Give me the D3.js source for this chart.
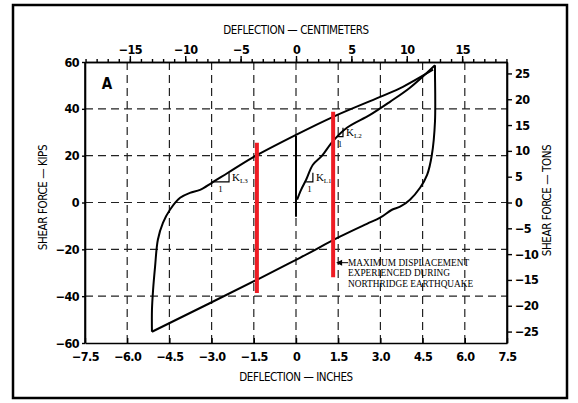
<!DOCTYPE html>
<html><head><meta charset="utf-8">
<script src="https://cdn.jsdelivr.net/npm/d3@7"></script>
<style>
body{margin:0;background:#fff;}
svg{display:block;}
.cond{font-family:"Liberation Sans Narrow","DejaVu Sans Condensed","Arial Narrow",sans-serif;}
.serif{font-family:"Liberation Serif","DejaVu Serif",serif;}
</style></head>
<body>
<svg id="chart" width="578" height="403"></svg>
<script>
// ---------- DATA ----------
const inchTicks = [-7.5,-6.0,-4.5,-3.0,-1.5,0,1.5,3.0,4.5,6.0,7.5];
const inchLabels = ["\u22127.5","\u22126.0","\u22124.5","\u22123.0","\u22121.5","0","1.5","3.0","4.5","6.0","7.5"];
const gridInches = [-6.0,-4.5,-3.0,-1.5,0,1.5,3.0,4.5,6.0];
const kipTicks = [-60,-40,-20,0,20,40,60];
const kipLabels = ["\u221260","\u221240","\u221220","0","20","40","60"];
const gridKips = [-40,-20,0,20,40];
const tonTicks = [-25,-20,-15,-10,-5,0,5,10,15,20,25];
const tonLabels = ["\u221225","\u221220","\u221215","\u221210","\u22125","0","5","10","15","20","25"];
const cmMajor = [-15,-10,-5,0,5,10,15];
const cmLabels = ["\u221215","\u221210","\u22125","0","5","10","15"];
const cmMinor = d3.range(-19,20);

// initial spike at zero deflection
const spikeInches = [0, 0];
const spikeKips = [-6.1, 28.4];
// loading branch (K_L1, K_L2) up to the peak
const loadInches = [0.04,0.18,0.36,0.60,0.92,1.32,1.81,2.63,3.34,4.05,4.94];
const loadKips   = [1.2, 5.4, 9.7,16.1,19.9,26.3,31.9,37.4,43.0,49.0,58.6];
// unloading from peak down to the negative corner
const unloadInches = [4.94,4.94,4.94,4.83,4.66,4.41,4.05,3.70,3.41,2.99,2.52,1.56,0.14,-1.39,-5.12];
const unloadKips   = [58.6,55.8,34.5,20.4,11.8, 6.3, 1.2,-1.8,-3.1,-6.5,-9.1,-14.6,-23.6,-33.0,-55.2];
// reloading from negative corner back up toward the peak (K_L3)
const reloadInches = [-5.12,-5.12,-5.08,-5.01,-4.91,-4.73,-4.48,-4.12,-3.77,-3.41,-2.99,-2.42,-1.56,0,1.32,2.99,3.80,4.87];
const reloadKips   = [-55.2,-45.9,-37.3,-27.5,-15.9,-8.7,-3.1, 2.0, 4.1, 5.4, 8.4,12.7,19.1,28.9,36.6,45.1,49.4,56.7];

// red markers: deflection and vertical extent (kips)
const redInches = [-1.39, 1.32];
const redTopKips = [25.5, 38.8];
const redBottomKips = [-38.6, -31.9];

// stiffness annotations
const kNames = ["L3","L1","L2"];
const kLeftInches = [-2.99, 0.36, 1.46];
const kRightInches = [-2.38, 0.60, 1.67];
const kTopKips = [12.7, 12.7, 31.9];
const kBottomKips = [8.8, 8.8, 28.1];

const noteLines = ["MAXIMUM DISPLACEMENT","EXPERIENCED DURING","NORTHRIDGE EARTHQUAKE"];
const noteInches = 1.85, noteKips = -25.7;

// ---------- DRAW ----------
const svg = d3.select("#chart");
const L = 85, R = 507, T = 62, B = 343;
const x = d3.scaleLinear().domain([-7.5,7.5]).range([L,R]);
const y = d3.scaleLinear().domain([-60,60]).range([B,T]);
const xcm = d3.scaleLinear().domain([-7.5*2.54,7.5*2.54]).range([L,R]);
const yton = d3.scaleLinear().domain([-60/2.2046,60/2.2046]).range([B,T]);

// outer border
svg.append("rect").attr("x",13).attr("y",5).attr("width",554).attr("height",393)
  .attr("fill","none").attr("stroke","#000").attr("stroke-width",2.5);

// grid
const grid = svg.append("g").attr("stroke","#222").attr("stroke-width",1.2).attr("stroke-dasharray","8,5");
grid.selectAll(".gv").data(gridInches).join("line")
  .attr("x1",d=>x(d)).attr("x2",d=>x(d)).attr("y1",T).attr("y2",B);
grid.selectAll(".gh").data(gridKips).join("line")
  .attr("y1",d=>y(d)).attr("y2",d=>y(d)).attr("x1",L).attr("x2",R);

// axes
const fmtFrom = (ticks, labels) => (d => labels[ticks.indexOf(d)]);
const bottomAx = svg.append("g").attr("transform",`translate(0,${B})`)
  .call(d3.axisBottom(x).tickValues(inchTicks).tickFormat(fmtFrom(inchTicks,inchLabels)).tickSizeInner(-5).tickSizeOuter(0).tickPadding(9));
const leftAx = svg.append("g").attr("transform",`translate(${L},0)`)
  .call(d3.axisLeft(y).tickValues(kipTicks).tickFormat(fmtFrom(kipTicks,kipLabels)).tickSizeInner(3).tickSizeOuter(0).tickPadding(3));
const rightAx = svg.append("g").attr("transform",`translate(${R},0)`)
  .call(d3.axisRight(yton).tickValues(tonTicks).tickFormat(fmtFrom(tonTicks,tonLabels)).tickSizeInner(5).tickSizeOuter(0).tickPadding(3));
const topMinor = svg.append("g").attr("transform",`translate(0,${T})`)
  .call(d3.axisTop(xcm).tickValues(cmMinor).tickFormat("").tickSizeInner(3).tickSizeOuter(0));
const topAx = svg.append("g").attr("transform",`translate(0,${T})`)
  .call(d3.axisTop(xcm).tickValues(cmMajor).tickFormat(fmtFrom(cmMajor,cmLabels)).tickSizeInner(6).tickSizeOuter(0).tickPadding(2));
[bottomAx,leftAx,rightAx,topMinor,topAx].forEach(g=>{
  g.select(".domain").attr("stroke","#000").attr("stroke-width",1.6);
  g.selectAll(".tick line").attr("stroke","#000").attr("stroke-width",1.4);
  g.selectAll("text").attr("class","cond").attr("font-size",12.5).attr("font-weight","bold")
    .attr("letter-spacing",-0.6).attr("fill","#000");
});
// close the frame
svg.append("line").attr("x1",L).attr("x2",L).attr("y1",T).attr("y2",B).attr("stroke","#000").attr("stroke-width",1.6);
svg.append("line").attr("x1",R).attr("x2",R).attr("y1",T).attr("y2",B).attr("stroke","#000").attr("stroke-width",1.6);

// axis titles
const titleAttrs = s => s.attr("class","cond").attr("text-anchor","middle").attr("font-size",11.5)
  .attr("letter-spacing",-0.4).attr("fill","#000");
svg.append("text").call(titleAttrs).attr("x",x(0)).attr("y",34).text("DEFLECTION \u2014 CENTIMETERS");
svg.append("text").call(titleAttrs).attr("x",x(0)).attr("y",381).text("DEFLECTION \u2014 INCHES");
svg.append("text").call(titleAttrs).attr("transform",`translate(47,${(T+B)/2-5}) rotate(-90)`).text("SHEAR FORCE \u2014 KIPS");
svg.append("text").call(titleAttrs).attr("transform",`translate(551,${(T+B)/2-2}) rotate(-90)`).text("SHEAR FORCE \u2014 TONS");

// panel letter
svg.append("text").attr("class","cond").attr("x",x(-7.5)+22).attr("y",y(50)+4).attr("text-anchor","middle")
  .attr("font-size",15).attr("font-weight","bold").text("A");

// curves
const line = d3.line().x(d=>x(d[0])).y(d=>y(d[1])).curve(d3.curveCatmullRom.alpha(0.5));
const zipPts = (a,b)=>a.map((v,i)=>[v,b[i]]);
const curveG = svg.append("g").attr("fill","none").attr("stroke","#000").attr("stroke-width",2).attr("stroke-linejoin","round");
[ [spikeInches,spikeKips],[loadInches,loadKips],[unloadInches,unloadKips],[reloadInches,reloadKips] ]
  .forEach(([a,b])=>curveG.append("path").attr("d",line(zipPts(a,b))));

// stiffness triangles
const kG = svg.append("g");
kNames.forEach((n,i)=>{
  const xl=x(kLeftInches[i]), xr=x(kRightInches[i]), yt=y(kTopKips[i]), yb=y(kBottomKips[i]);
  kG.append("path").attr("d",`M${xl},${yb}H${xr}V${yt}`).attr("fill","none").attr("stroke","#000").attr("stroke-width",1.2);
  kG.append("text").attr("class","serif").attr("x",(xl+xr)/2).attr("y",yb+10).attr("text-anchor","middle")
    .attr("font-size",9).text("1");
  const t = kG.append("text").attr("class","serif").attr("x",xr+3).attr("y",yb-1).attr("font-size",11);
  t.append("tspan").text("K");
  t.append("tspan").attr("font-size",7).attr("dy",2).text(n);
});

// red markers
svg.append("g").selectAll("line").data(redInches).join("line")
  .attr("x1",d=>x(d)).attr("x2",d=>x(d))
  .attr("y1",(d,i)=>y(redTopKips[i])).attr("y2",(d,i)=>y(redBottomKips[i]))
  .attr("stroke","#ee1c24").attr("stroke-width",4);

// annotation arrow + note
const ax0 = x(redInches[1])+3, ay = y(noteKips);
svg.append("line").attr("x1",ax0+4).attr("x2",ax0+12).attr("y1",ay).attr("y2",ay).attr("stroke","#000").attr("stroke-width",1);
svg.append("path").attr("d",`M${ax0},${ay}l6,-3v6z`).attr("fill","#000");
svg.append("g").selectAll("text").data(noteLines).join("text").attr("class","serif")
  .attr("x",x(noteInches)).attr("y",(d,i)=>ay+3+i*10.5).attr("font-size",9.3).attr("fill","#000").text(d=>d);
</script>
</body></html>
